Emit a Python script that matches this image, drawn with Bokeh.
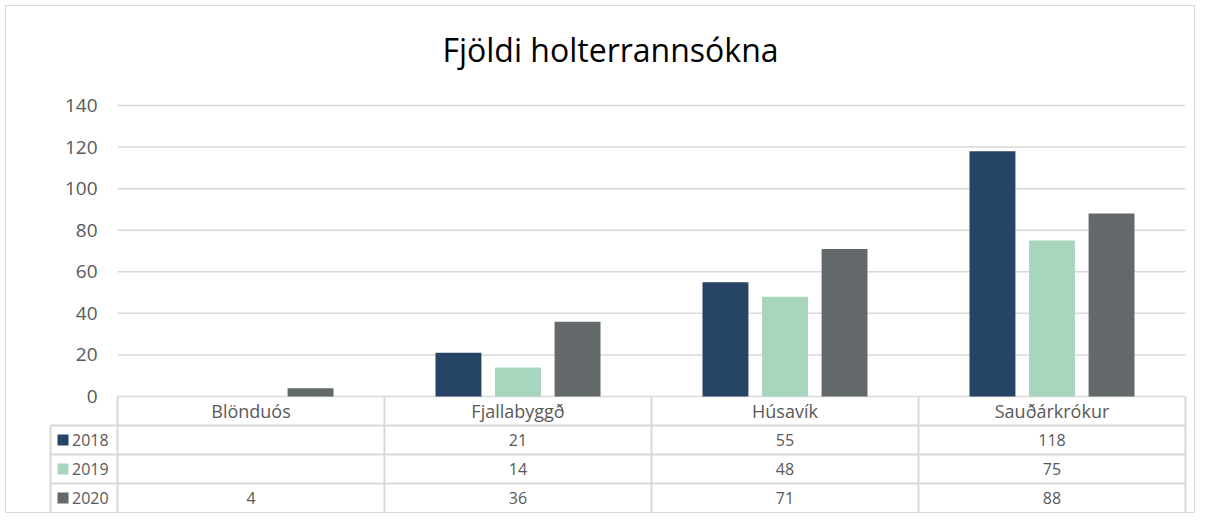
from bokeh.plotting import figure
from bokeh.models import Range1d, FixedTicker
from bokeh.core.properties import value
from bokeh.embed import file_html
from bokeh.resources import INLINE

# ---- data ----
categories = ["Blönduós", "Fjallabyggð", "Húsavík", "Sauðárkrókur"]
years = ["2018", "2019", "2020"]
v2018 = [None, 21, 55, 118]
v2019 = [None, 14, 48, 75]
v2020 = [4, 36, 71, 88]
y_ticks = [0, 20, 40, 60, 80, 100, 120, 140]
title_text = "Fjöldi holterrannsókna"

series = [v2018, v2019, v2020]
colors = ["#264466", "#A8D5BD", "#63686A"]
text_col = "#595959"
line_col = "#D9D9D9"
FONT = "Open Sans"

# ---- layout constants (canvas pixels) ----
W, H = 1195, 513
FL, FT = 5, 5                  # frame offset (outer chart border)
cat_px = 267.0                 # width of one category
cat0_px = 250.5                # centre of first category
y0_px = 396.0                  # value 0
ppu = 291.0 / 140.0            # pixels per value unit
row_px = 29.0                  # table row height

x_start = (FL - cat0_px) / cat_px
x_end = (W - cat0_px) / cat_px
y_start = -(H - y0_px) / ppu
y_end = (y0_px - FT) / ppu

p = figure(width=W, height=H, x_range=Range1d(x_start, x_end),
           y_range=Range1d(y_start, y_end),
           output_backend="svg", toolbar_location=None,
           x_axis_location=None, y_axis_location="left",
           min_border=0, min_border_left=FL, min_border_top=FT,
           background_fill_color="white", border_fill_color="white")
p.outline_line_color = line_col
p.outline_line_width = 1
p.grid.visible = False

# table range: row index grows downward, header row is 0..1
p.extra_y_ranges = {"tbl": Range1d(start=(H - y0_px) / row_px,
                                   end=-(y0_px - FT) / row_px)}

n = len(categories)
left_edge = -0.5
right_edge = n - 0.5
lab_col_edge = (50.0 - cat0_px) / cat_px

# gridlines
p.segment(x0=[left_edge] * len(y_ticks), y0=y_ticks,
          x1=[right_edge] * len(y_ticks), y1=y_ticks,
          line_color=line_col, line_width=1.5)

# bars
offsets = [-0.223, 0.0, 0.223]
bar_w = 0.172
for s, vals in enumerate(series):
    xs = [i + offsets[s] for i, v in enumerate(vals) if v is not None]
    tops = [v for v in vals if v is not None]
    p.vbar(x=xs, top=tops, bottom=0, width=bar_w, fill_color=colors[s],
           line_color=None)

# y axis
ax = p.yaxis[0]
ax.fixed_location = left_edge
ax.ticker = FixedTicker(ticks=y_ticks)
ax.axis_line_color = None
ax.major_tick_line_color = None
ax.minor_tick_line_color = None
ax.major_tick_out = 0
ax.major_label_standoff = 20
ax.major_label_text_font = FONT
ax.major_label_text_font_size = "19px"
ax.major_label_text_color = text_col

# table lines
nrows = len(years) + 1
p.segment(x0=[lab_col_edge] * len(years), y0=list(range(1, nrows)),
          x1=[right_edge] * len(years), y1=list(range(1, nrows)),
          line_color=line_col, line_width=2, y_range_name="tbl")
p.segment(x0=[left_edge + i for i in range(n + 1)], y0=[0] * (n + 1),
          x1=[left_edge + i for i in range(n + 1)], y1=[nrows] * (n + 1),
          line_color=line_col, line_width=2, y_range_name="tbl")
p.segment(x0=[lab_col_edge], y0=[1], x1=[lab_col_edge], y1=[nrows],
          line_color=line_col, line_width=2, y_range_name="tbl")

# header texts
p.text(x=list(range(n)), y=[0.5] * n, text=categories, y_range_name="tbl",
       text_font=value(FONT), text_font_size="18px", text_color=text_col,
       text_align="center", text_baseline="middle")

# data texts
for s, vals in enumerate(series):
    xs = [i for i, v in enumerate(vals) if v is not None]
    ts = [str(v) for v in vals if v is not None]
    p.text(x=xs, y=[s + 1.5] * len(xs), text=ts, y_range_name="tbl",
           text_font=value(FONT), text_font_size="16px", text_color=text_col,
           text_align="center", text_baseline="middle")

# legend keys in the table
sq_x = (62.5 - cat0_px) / cat_px
lab_x = (71.5 - cat0_px) / cat_px
p.scatter(x=[sq_x] * len(years), y=[r + 1.5 for r in range(len(years))],
          marker="square", size=11, fill_color=colors, line_color=None,
          y_range_name="tbl")
p.text(x=[lab_x] * len(years), y=[r + 1.5 for r in range(len(years))],
       text=years, y_range_name="tbl",
       text_font=value(FONT), text_font_size="16px", text_color=text_col,
       text_align="left", text_baseline="middle")

# title
p.text(x=[(610.0 - cat0_px) / cat_px], y=[(y0_px - 49.0) / ppu], text=[title_text],
       text_font=value(FONT), text_font_size="32px", text_color="#000000",
       text_align="center", text_baseline="alphabetic")

open("out.html", "w").write(file_html(p, INLINE))
